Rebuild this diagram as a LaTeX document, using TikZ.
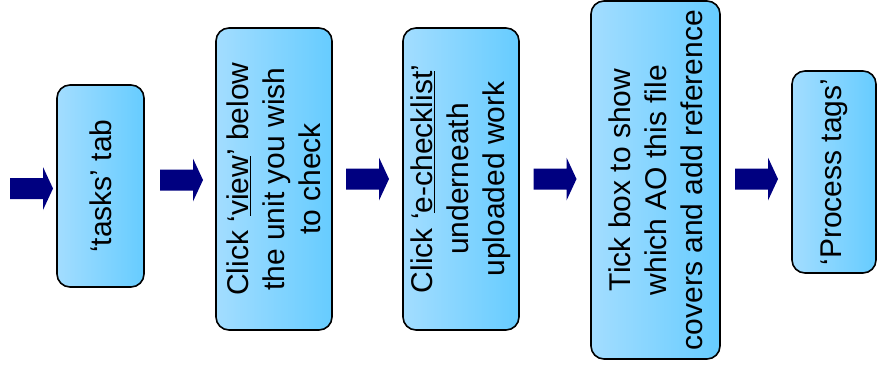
\documentclass[tikz,border=0pt]{standalone}
\usepackage{fontspec}
\setmainfont{Liberation Sans}
\definecolor{lightblue}{HTML}{A3DDFF}
\definecolor{darkblue}{HTML}{66CCFF}
\definecolor{navyarrow}{HTML}{000080}
\tikzset{
  stepbox/.style={draw=black, line width=1.6pt, rounded corners=13pt,
    left color=lightblue, right color=darkblue, rotate=90,
    align=center, inner sep=0pt,
    font=\fontsize{30}{36}\selectfont},
  blockarrow/.pic={\fill[navyarrow] (-21.5,-10.5) -- (11.5,-10.5) -- (11.5,-21.5)
    -- (21.5,0) -- (11.5,21.5) -- (11.5,10.5) -- (-21.5,10.5) -- cycle;}
}
\begin{document}
\begin{tikzpicture}[x=1pt,y=-1pt]
\useasboundingbox (0,0) rectangle (877,367);
\node[stepbox, minimum width=202pt, minimum height=87pt] (b1) at (100.5,186) {‘tasks’ tab};
\node[stepbox, minimum width=302pt, minimum height=116pt] (b2) at (274,179) {Click ‘\underline{view}’ below\\the unit you wish\\to check};
\node[stepbox, minimum width=302pt, minimum height=116pt] (b3) at (461,179) {Click ‘\underline{e-checklist}’\\underneath\\uploaded work};
\node[stepbox, minimum width=358pt, minimum height=129pt] (b4) at (655.5,180) {Tick box to show\\which AO this file\\covers and add reference};
\node[stepbox, minimum width=202pt, minimum height=84pt] (b5) at (834,172) {‘Process tags’};
\pic (a0) at (31.5,188.5) {blockarrow};
\pic (a1) at (181.5,180) {blockarrow};
\pic (a2) at (367.5,179) {blockarrow};
\pic (a3) at (555,179) {blockarrow};
\pic (a4) at (756.5,179) {blockarrow};
\end{tikzpicture}
\end{document}
